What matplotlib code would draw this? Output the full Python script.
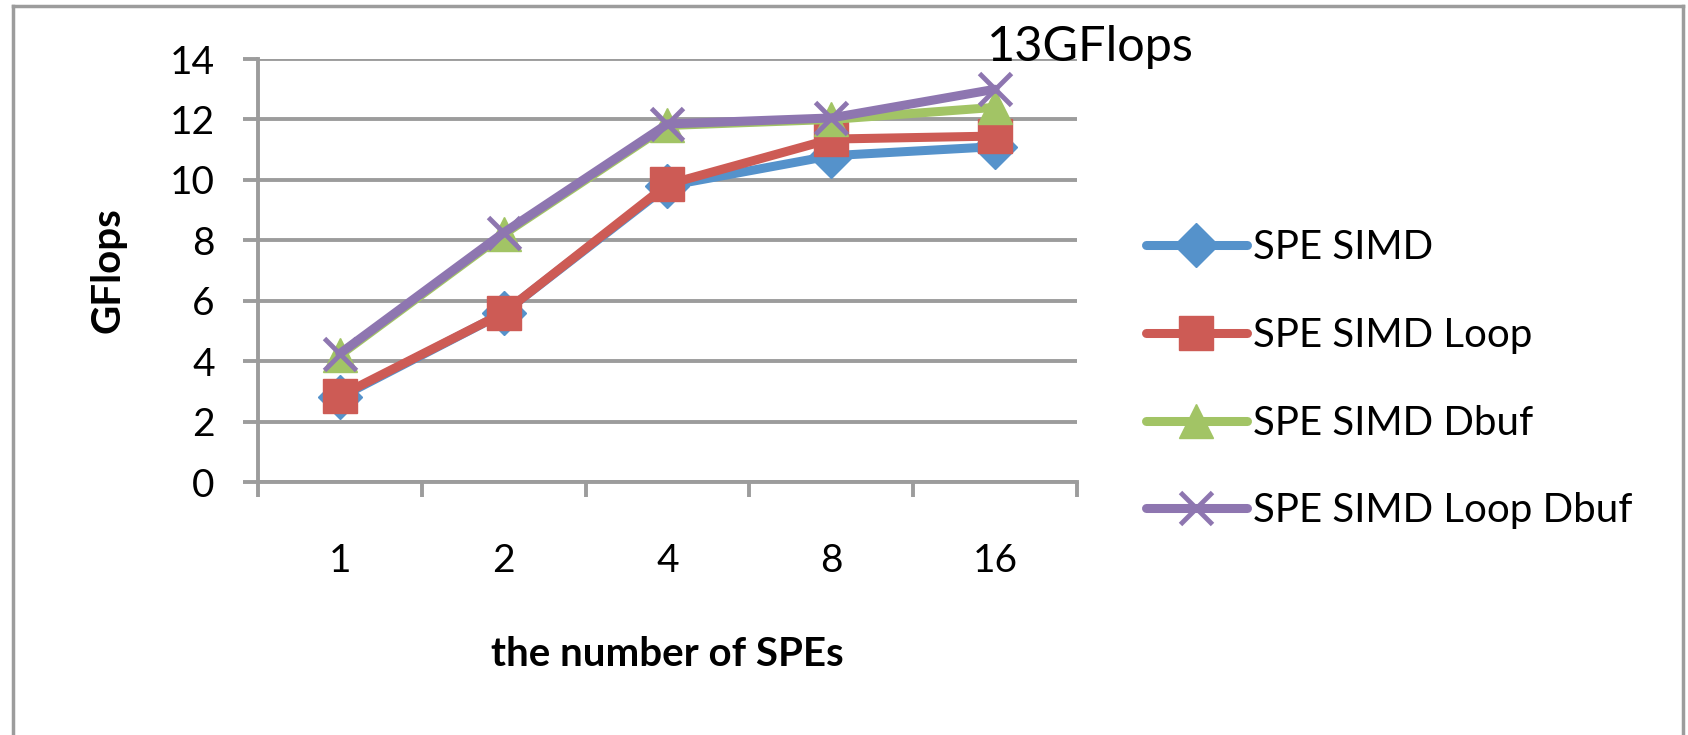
import matplotlib as mpl
import matplotlib.pyplot as plt
from matplotlib.lines import Line2D

mpl.rc('font', family=['Lato', 'DejaVu Sans'])

spes = ['1', '2', '4', '8', '16']
simd = [2.8, 5.6, 9.8, 10.8, 11.1]
simd_loop = [2.85, 5.6, 9.85, 11.35, 11.45]
simd_dbuf = [4.2, 8.2, 11.8, 12.0, 12.4]
simd_loop_dbuf = [4.25, 8.25, 11.85, 12.05, 13.0]

series = [
    ('SPE SIMD', simd, '#5592CB', 'D', 22),
    ('SPE SIMD Loop', simd_loop, '#CD5B55', 's', 25),
    ('SPE SIMD Dbuf', simd_dbuf, '#A2C465', '^', 24),
    ('SPE SIMD Loop Dbuf', simd_loop_dbuf, '#8E76B0', 'x', 23),
]
grey = '#9C9C9C'
lw = 6.5

fig = plt.figure(figsize=(16.88, 7.35), dpi=100)
ax = fig.add_axes([0.1528, 0.3442, 0.638 - 0.1528, 0.9197 - 0.3442])

xs = [i + 0.5 for i in range(len(spes))]
for label, vals, color, marker, ms in series:
    ax.plot(xs, vals, color=color, lw=lw, marker=marker, markersize=ms,
            markeredgecolor=color, markeredgewidth=3.5 if marker == 'x' else 1,
            solid_capstyle='round', solid_joinstyle='round', label=label,
            clip_on=False)

ax.set_xlim(0, len(spes))
ax.set_ylim(0, 14)
ax.set_yticks(range(0, 15, 2))
ax.set_xticks(range(0, len(spes) + 1))
ax.set_xticklabels([])
ax.set_xticks(xs, minor=True)
ax.set_xticklabels(spes, minor=True)
ax.tick_params(axis='x', which='minor', length=0, pad=44, labelsize=28)
ax.tick_params(axis='x', which='major', length=11, width=2.8, color=grey, direction='out')
ax.tick_params(axis='y', length=11, width=2.8, color=grey, pad=20, labelsize=28)

ax.grid(axis='y', color=grey, lw=2.8, zorder=0)
ax.set_axisbelow(True)
for side in ['top', 'right']:
    ax.spines[side].set_visible(False)
for side in ['left', 'bottom']:
    ax.spines[side].set_color(grey)
    ax.spines[side].set_linewidth(2.8)

ax.set_ylabel('GFlops', fontsize=29, fontweight='bold')
ax.yaxis.set_label_coords(-0.16, 0.5)
ax.set_xlabel('the number of SPEs', fontsize=29, fontweight='bold')
ax.xaxis.set_label_coords(0.5, -0.365)

peak = simd_loop_dbuf[-1]
ax.annotate('{:.0f}GFlops'.format(peak), xy=(xs[-1], 13.92), xytext=(-6, 0),
            textcoords='offset points', fontsize=35, ha='left', va='baseline',
            annotation_clip=False)

handles = [Line2D([], [], color=c, lw=lw, marker=m, markersize=ms,
                  markeredgecolor=c, markeredgewidth=3.5 if m == 'x' else 1,
                  solid_capstyle='round')
           for _, _, c, m, ms in series]
fig.legend(handles, [s[0] for s in series], loc='center left',
           bbox_to_anchor=(0.679, 0.484), frameon=False, fontsize=29,
           handlelength=2.5, handletextpad=0.15, labelspacing=1.26,
           borderpad=0, borderaxespad=0)

# outer chart border
for xy in [([0.0075, 0.0075], [-0.1, 0.992]), ([0.0075, 0.997], [0.992, 0.992]),
           ([0.997, 0.997], [0.992, -0.1])]:
    fig.add_artist(Line2D(*xy, transform=fig.transFigure, color=grey, lw=2.5))

fig.savefig('out.png', dpi=100)
